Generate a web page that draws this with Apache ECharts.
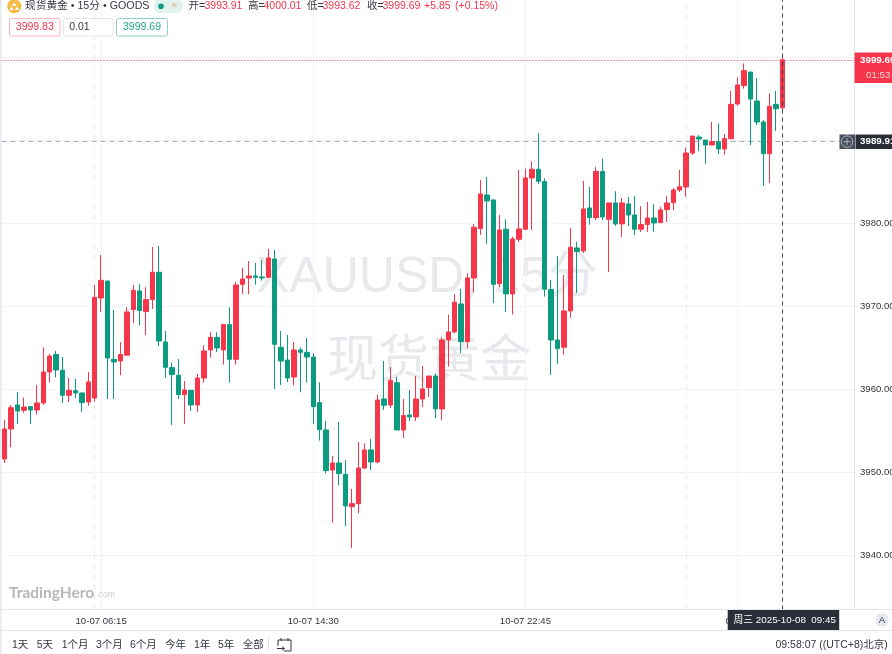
<!DOCTYPE html>
<html><head><meta charset="utf-8">
<style>html,body{margin:0;padding:0;background:#fff}#c{width:892px;height:654px}</style>
<script src="https://cdn.jsdelivr.net/npm/echarts@6/dist/echarts.min.js"></script>
</head><body><div id="c"></div>
<script>
const categories = [
'10-07 01:30','10-07 01:45','10-07 02:00','10-07 02:15','10-07 02:30','10-07 02:45','10-07 03:00','10-07 03:15','10-07 03:30','10-07 03:45',
'10-07 04:00','10-07 04:15','10-07 04:30','10-07 04:45','10-07 06:00','10-07 06:15','10-07 06:30','10-07 06:45','10-07 07:00','10-07 07:15',
'10-07 07:30','10-07 07:45','10-07 08:00','10-07 08:15','10-07 08:30','10-07 08:45','10-07 09:00','10-07 09:15','10-07 09:30','10-07 09:45',
'10-07 10:00','10-07 10:15','10-07 10:30','10-07 10:45','10-07 11:00','10-07 11:15','10-07 11:30','10-07 11:45','10-07 12:00','10-07 12:15',
'10-07 12:30','10-07 12:45','10-07 13:00','10-07 13:15','10-07 13:30','10-07 13:45','10-07 14:00','10-07 14:15','10-07 14:30','10-07 14:45',
'10-07 15:00','10-07 15:15','10-07 15:30','10-07 15:45','10-07 16:00','10-07 16:15','10-07 16:30','10-07 16:45','10-07 17:00','10-07 17:15',
'10-07 17:30','10-07 17:45','10-07 18:00','10-07 18:15','10-07 18:30','10-07 18:45','10-07 19:00','10-07 19:15','10-07 19:30','10-07 19:45',
'10-07 20:00','10-07 20:15','10-07 20:30','10-07 20:45','10-07 21:00','10-07 21:15','10-07 21:30','10-07 21:45','10-07 22:00','10-07 22:15',
'10-07 22:30','10-07 22:45','10-07 23:00','10-07 23:15','10-07 23:30','10-07 23:45','10-08 00:00','10-08 00:15','10-08 00:30','10-08 00:45',
'10-08 01:00','10-08 01:15','10-08 01:30','10-08 01:45','10-08 02:00','10-08 02:15','10-08 02:30','10-08 02:45','10-08 03:00','10-08 03:15',
'10-08 03:30','10-08 03:45','10-08 04:00','10-08 04:15','10-08 04:30','10-08 04:45','10-08 06:00','10-08 06:15','10-08 06:30','10-08 06:45',
'10-08 07:00','10-08 07:15','10-08 07:30','10-08 07:45','10-08 08:00','10-08 08:15','10-08 08:30','10-08 08:45','10-08 09:00','10-08 09:15',
'10-08 09:30','10-08 09:45','10-08 10:00','10-08 10:15','10-08 10:30','10-08 10:45','10-08 11:00','10-08 11:15','10-08 11:30','10-08 11:45',
'10-08 12:00','10-08 12:15','10-08 12:30'
];
const opens = [
3951.61,3955.22,3958.11,3957.47,3957.91,3957.51,3958.35,3962.09,3964.18,3962.29,
3959.28,3959.84,3959.56,3958.47,3958.95,3971.00,3973.05,3963.61,3963.41,3964.10,
3969.60,3971.85,3969.36,3970.80,3974.10,3965.70,3962.61,3961.69,3959.36,3959.88,
3958.11,3961.36,3964.74,3966.26,3964.74,3967.79,3963.61,3972.65,3973.41,3973.65,
3973.53,3973.49,3975.70,3965.06,3963.53,3961.48,3964.74,3964.46,3963.89,3958.39,
3955.10,3950.28,3951.12,3949.76,3945.86,3946.22,3950.52,3952.69,3951.24,3958.83,
3958.11,3960.80,3955.10,3956.91,3956.67,3958.83,3960.20,3961.60,3957.63,3965.94,
3966.91,3970.28,3965.74,3973.41,3979.36,3983.41,3982.81,3972.73,3979.28,3971.49,
3978.07,3979.28,3985.46,3986.51,3985.02,3972.01,3965.94,3965.06,3969.44,3977.03,
3976.67,3981.85,3980.68,3986.23,3980.48,3982.45,3979.92,3982.33,3981.00,3979.28,
3979.84,3980.64,3980.08,3981.65,3982.48,3984.01,3984.37,3988.47,3990.39,3990.03,
3989.43,3989.83,3988.95,3990.19,3994.37,3996.58,3998.22,3994.73,3992.20,3988.39,
3994.33,3993.91
];
const closes = [
3955.22,3957.79,3957.39,3957.87,3957.51,3958.35,3962.09,3964.01,3962.33,3959.28,
3959.88,3959.56,3958.39,3960.88,3971.08,3973.13,3963.77,3963.29,3964.18,3969.32,
3971.93,3969.48,3970.80,3974.10,3965.82,3962.65,3961.77,3959.36,3959.92,3958.11,
3961.36,3964.62,3966.26,3964.98,3967.79,3963.61,3972.57,3973.29,3973.65,3973.49,
3973.41,3975.82,3965.42,3963.41,3961.36,3964.74,3964.46,3963.89,3957.91,3955.14,
3950.20,3951.12,3949.84,3945.94,3946.22,3950.52,3952.69,3951.24,3958.71,3958.07,
3961.08,3955.10,3956.83,3956.67,3958.83,3960.04,3961.60,3957.63,3965.94,3966.91,
3970.48,3965.74,3973.41,3979.52,3983.53,3982.69,3972.65,3979.20,3971.49,3978.11,
3979.32,3985.46,3986.51,3985.06,3972.05,3965.94,3964.90,3969.44,3977.11,3976.59,
3981.73,3980.68,3986.23,3980.76,3982.45,3979.92,3982.45,3981.00,3979.28,3979.84,
3980.64,3980.04,3981.61,3982.45,3984.01,3984.41,3988.47,3990.51,3990.15,3989.43,
3989.83,3988.95,3990.19,3994.33,3996.66,3998.39,3994.97,3992.20,3988.39,3994.09,
3993.81,3999.69
];
const lows = [
3951.12,3953.01,3955.82,3957.19,3955.82,3956.95,3958.11,3960.80,3961.44,3958.35,
3958.47,3958.95,3957.27,3958.03,3958.51,3969.28,3958.83,3958.83,3961.69,3964.10,
3967.99,3967.71,3966.54,3969.68,3965.22,3961.40,3955.70,3958.83,3955.82,3957.39,
3957.27,3960.80,3963.81,3964.50,3962.97,3960.80,3962.97,3971.48,3971.44,3972.61,
3973.09,3973.49,3960.04,3960.52,3960.88,3960.48,3959.64,3960.80,3955.82,3953.81,
3949.88,3943.93,3948.43,3943.53,3940.88,3945.06,3950.40,3950.28,3951.08,3957.51,
3957.75,3955.10,3954.14,3956.18,3956.18,3957.87,3959.07,3956.51,3956.26,3962.73,
3966.75,3964.34,3964.98,3971.65,3978.59,3977.51,3970.40,3972.29,3969.32,3969.00,
3977.75,3979.20,3979.20,3984.74,3971.17,3961.73,3963.05,3964.14,3968.60,3971.61,
3976.43,3979.84,3980.40,3980.40,3974.14,3979.68,3978.31,3979.68,3978.59,3978.96,
3978.96,3978.96,3980.08,3980.16,3981.60,3983.77,3983.20,3988.23,3988.67,3987.14,
3989.43,3988.35,3988.23,3990.11,3994.17,3996.22,3989.43,3991.84,3984.49,3984.85,
3991.12,3993.62
];
const highs = [
3956.30,3958.11,3959.68,3959.00,3957.99,3960.52,3965.06,3964.26,3964.62,3963.89,
3961.36,3961.24,3959.56,3962.09,3972.57,3976.18,3973.05,3969.56,3965.70,3969.88,
3972.57,3972.65,3972.29,3977.15,3977.27,3967.03,3963.21,3963.65,3961.00,3959.88,
3961.85,3965.30,3966.87,3966.87,3967.79,3969.88,3972.97,3974.62,3975.46,3975.22,
3975.58,3976.91,3976.79,3967.03,3966.54,3965.70,3965.06,3966.18,3964.34,3960.84,
3956.18,3951.97,3956.06,3951.48,3947.99,3953.65,3953.49,3954.02,3959.32,3963.41,
3962.69,3961.52,3958.83,3959.88,3961.60,3962.81,3961.60,3961.93,3966.26,3968.99,
3971.45,3972.09,3973.98,3979.92,3985.22,3985.58,3982.89,3981.00,3980.48,3978.39,
3986.43,3986.59,3987.47,3990.84,3985.42,3973.17,3976.06,3973.78,3979.44,3977.79,
3985.10,3984.38,3986.79,3987.79,3982.45,3983.86,3983.05,3983.17,3983.29,3982.05,
3982.57,3982.29,3981.97,3983.25,3984.25,3986.42,3989.11,3990.51,3990.63,3990.03,
3992.20,3992.04,3990.76,3995.94,3997.54,3999.27,3998.22,3997.50,3992.44,3995.65,
3995.94,4000.01
];
const yTicks = [3940,3950,3960,3970,3980,3990,4000];
const yTickLabels = [3940,3950,3960,3970,3980];
const xLabelTimes = ['10-07 06:15','10-07 14:30','10-07 22:45','10-08 08:00'];
const xLabelShort = {'10-08 08:00':'08:00'};
const sessionBreaks = ['10-07 06:00','10-08 06:00'];
const lastPrice = 3999.69, crossPrice = 3989.91, crossTime = '10-08 09:45';

const RED='#F5364B', GREEN='#0A9B80', INK='#333640', DARK='#2A2E39', RULE='#E4E6EE', SOFT='#F2F3F6';
const FONT='"Liberation Sans","Noto Sans CJK SC",sans-serif';
function T(text,x,y,fill,size,opt){opt=opt||{};return {type:'text',z:opt.z||100,silent:true,style:{text,x,y,fill,
  font:(opt.weight||'normal')+' '+size+'px '+(opt.family||FONT),textAlign:opt.align||'left',textVerticalAlign:'middle',opacity:opt.opacity==null?1:opt.opacity}};}
function R(x,y,w,h,fill,opt){opt=opt||{};return {type:'rect',z:opt.z||99,silent:true,shape:{x,y,width:w,height:h,r:opt.r||0},style:{fill:fill,stroke:opt.stroke||null,lineWidth:1}};}
function L(x1,y1,x2,y2,stroke,w,opt){opt=opt||{};return {type:'line',z:opt.z||99,silent:true,shape:{x1,y1,x2,y2},style:{stroke,lineWidth:w||1}};}

const graphics=[
  // watermark
  T('XAUUSD, 15分',256,278,'#E8E9EC',50,{z:1,family:'"Liberation Sans","Noto Sans CJK SC"'}),
  T('现货黄金',327,358,'#E8E9EC',51,{z:1,family:'"Noto Sans CJK SC"'}),
  // frame
  R(0,0,1.5,654,'#E6E9F4'),
  L(854.5,0,854.5,610,RULE),
  L(0,609.5,892,609.5,RULE),
  L(0,630.5,892,630.5,RULE),
  // header
  {type:'circle',z:99,silent:true,shape:{cx:14.3,cy:6.3,r:7},style:{fill:'#F4BC45'}},
  {type:'polygon',z:100,silent:true,shape:{points:[[14.3,2.5],[16.5,6],[12.1,6]]},style:{fill:'#fff'}},
  {type:'polygon',z:100,silent:true,shape:{points:[[11.5,6.6],[13.7,10],[9.3,10]]},style:{fill:'#fff'}},
  {type:'polygon',z:100,silent:true,shape:{points:[[17.1,6.6],[19.3,10],[14.9,10]]},style:{fill:'#fff'}},
  T('现货黄金 • 15分 • GOODS',25,6.5,INK,10.7),
  R(153.7,-1,29.5,14,'#DFF2EE',{r:7}),
  {type:'circle',z:100,silent:true,shape:{cx:161,cy:6.3,r:2.8},style:{fill:GREEN}},
  T('≈',172,6,'#F08A3C',9),
  T('开=',188.5,6.5,INK,10.5), T('3993.91',204.5,6.5,RED,10.5),
  T('高=',248,6.5,INK,10.5), T('4000.01',263.5,6.5,RED,10.5),
  T('低=',307,6.5,INK,10.5), T('3993.62',322.5,6.5,RED,10.5),
  T('收=',367,6.5,INK,10.5), T('3999.69',382.5,6.5,RED,10.5),
  T('+5.85',424,6.5,RED,10.5), T('(+0.15%)',455,6.5,RED,10.5),
  // order boxes
  R(9.5,18.5,50.5,17.5,'#fff',{stroke:'#FFB3BB',r:2}),
  T('3999.83',34.8,27.5,RED,10.5,{align:'center'}),
  R(63.5,18.5,49.5,17.5,'#fff',{stroke:'#E6E7EC',r:2}),
  T('0.01',69.2,27.5,INK,10.5),
  R(116.5,18.5,51,17.5,'#fff',{stroke:'#8ED0C2',r:2}),
  T('3999.69',142,27.5,'#1FA78D',10.5,{align:'center'}),
  // logo
  T('TradingHero',9,593,'#B7B8BC',15.5,{weight:'bold',family:'Lato,"Liberation Sans"'}),
  T('.com',96.5,594.5,'#CBCCD0',8.5),
  // right price tags
  R(854.5,52.5,37.5,30.5,RED),
  T('3999.69',860,60.5,'#fff',9.8,{weight:'bold'}),
  T('01:53',866,75.5,'#FBD3D8',9.8),
  R(839.5,134.5,15.5,14.5,'#4A4F5E'),
  {type:'circle',z:100,silent:true,shape:{cx:847,cy:141.7,r:5.8},style:{fill:'none',stroke:'#B9BBC4',lineWidth:0.9}},
  L(843.5,141.7,850.5,141.7,'#B9BBC4',0.9,{z:100}),
  L(847,138.2,847,145.2,'#B9BBC4',0.9,{z:100}),
  R(855.5,134.5,36.5,14.5,DARK),
  T('3989.91',860,141.7,'#fff',9.8,{weight:'bold'}),
  // time tag
  R(727.7,610,111.5,20,DARK),
  T('周三 2025-10-08  09:45',733.5,620,'#fff',9.8),
  {type:'circle',z:99,silent:true,shape:{cx:882,cy:620,r:7},style:{fill:'#E8E9F0'}},
  T('A',882,620,INK,9.5,{align:'center'}),
  // bottom bar
  T('1天',12,645,INK,10.5), T('5天',36.7,645,INK,10.5), T('1个月',61.7,645,INK,10.5),
  T('3个月',96,645,INK,10.5), T('6个月',130,645,INK,10.5), T('今年',165,645,INK,10.5),
  T('1年',194,645,INK,10.5), T('5年',218,645,INK,10.5), T('全部',242.7,645,INK,10.5),
  L(268.5,636,268.5,652,RULE),
  {type:'polyline',z:99,silent:true,shape:{points:[[284,651],[291,651],[291,640],[278,640],[278,646]]},style:{stroke:INK,fill:'none',lineWidth:1}},
  L(281,638,281,641,INK,1), L(288,638,288,641,INK,1), L(277,648.5,284,648.5,INK,1),
  {type:'polyline',z:99,silent:true,shape:{points:[[282,646.5],[284.5,648.5],[282,650.5]]},style:{stroke:INK,fill:'none',lineWidth:1}},
  T('09:58:07 ((UTC+8)北京)',775.5,645,INK,10.5)
];

const gridLines = xLabelTimes.map(t=>({xAxis:t,lineStyle:{color:SOFT,width:1,type:'solid'}}));
const breakLines = sessionBreaks.map(t=>({xAxis:t,lineStyle:{color:'#E6E7EC',width:1,type:[5,5]}}));

const chart=echarts.init(document.getElementById('c'),null,{renderer:'canvas'});
chart.setOption({
  animation:false,
  backgroundColor:'#fff',
  textStyle:{fontFamily:FONT},
  grid:{left:1.5,top:0,width:855,height:609.5,containLabel:false,outerBoundsMode:'none'},
  xAxis:{type:'category',data:categories,boundaryGap:true,
    axisLine:{show:false},axisTick:{show:false},splitLine:{show:false},
    axisLabel:{interval:(i,v)=>xLabelTimes.includes(v),formatter:v=>xLabelShort[v]||v,color:INK,fontSize:9.6,margin:7,fontFamily:FONT,hideOverlap:false}},
  yAxis:{type:'value',position:'right',scale:true,min:3933.47,max:4006.9,
    axisLine:{show:false},
    axisTick:{show:false,customValues:yTicks},
    splitLine:{show:true,lineStyle:{color:SOFT,width:1}},
    axisLabel:{customValues:yTickLabels,color:INK,fontSize:9.6,margin:3.5,padding:[2,0,0,0],fontFamily:FONT,formatter:v=>v.toFixed(2)}},
  graphic:{elements:graphics},
  series:[
    {type:'candlestick',name:'现货黄金',barWidth:5,z:2,
      data:categories.slice(0,opens.length).map((c,i)=>[opens[i],closes[i],lows[i],highs[i]]),
      itemStyle:{color:RED,color0:GREEN,borderColor:RED,borderColor0:GREEN,borderWidth:1},
      markLine:{silent:true,z:1,symbol:'none',animation:false,label:{show:false},
        data:gridLines.concat(breakLines,[
          {yAxis:lastPrice,lineStyle:{color:RED,width:1,type:[1,2]}},
          {yAxis:crossPrice,lineStyle:{color:'#A9ABB5',width:1,type:[5,4]}}
        ])}},
    {type:'line',name:'十字线',z:5,data:[],silent:true,showSymbol:false,
      markLine:{silent:true,z:5,symbol:'none',animation:false,label:{show:false},
        data:[{xAxis:crossTime,lineStyle:{color:'#3D3F48',width:1,type:[4,4]}}]}}
  ]
});
</script></body></html>
